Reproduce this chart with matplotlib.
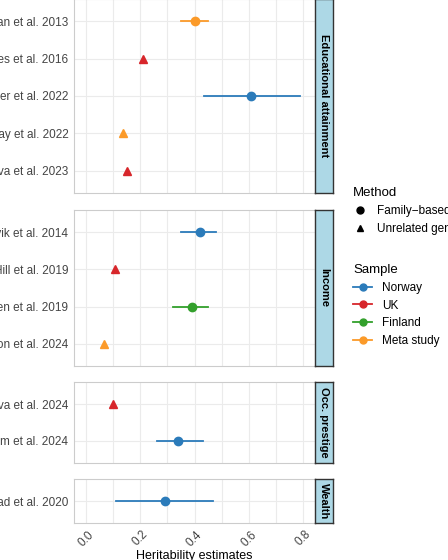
import matplotlib
matplotlib.use("Agg")
import matplotlib.pyplot as plt
from matplotlib.lines import Line2D

plt.rcParams["font.family"] = ["Liberation Sans", "DejaVu Sans"]

facets = ["Educational attainment", "Income", "Occ. prestige", "Wealth"]
studies = [
    ["Branigan et al. 2013", "Davies et al. 2016", "Baier et al. 2022", "Okbay et al. 2022", "Akimova et al. 2023"],
    ["Hyvik et al. 2014", "Hill et al. 2019", "Hyytinen et al. 2019", "Kweon et al. 2024"],
    ["Akimova et al. 2024", "Hegem et al. 2024"],
    ["Kolstad et al. 2020"],
]
est = [[0.40, 0.21, 0.61, 0.135, 0.15], [0.42, 0.107, 0.39, 0.067], [0.10, 0.34], [0.29]]
lo = [[0.35, None, 0.435, None, None], [0.35, None, 0.32, None], [None, 0.26], [0.11]]
hi = [[0.45, None, 0.79, None, None], [0.48, None, 0.45, None], [None, 0.43], [0.47]]
method = [["Family", "Unrelated", "Family", "Unrelated", "Unrelated"],
          ["Family", "Unrelated", "Family", "Unrelated"],
          ["Unrelated", "Family"], ["Family"]]
sample = [["Meta study", "UK", "Norway", "Meta study", "UK"],
          ["Norway", "UK", "Finland", "Meta study"],
          ["UK", "Norway"], ["Norway"]]

colors = {"Norway": "#2b7bba", "UK": "#d7262b", "Finland": "#33a02c", "Meta study": "#fb9a29"}
markers = {"Family": "o", "Unrelated": "^"}

fig = plt.figure(figsize=(4.48, 5.6), dpi=100)
L, R, SW = 74/448, 315/448, 18/448
rows = [(-1, 193), (210, 366), (382, 463), (479, 523)]
for i, (t, b) in enumerate(rows):
    y0 = 1 - b/560; h = (b - t)/560
    ax = fig.add_axes([L, y0, R - L, h])
    n = len(studies[i])
    for j in range(n):
        c = colors[sample[i][j]]
        if lo[i][j] is not None:
            ax.plot([lo[i][j], hi[i][j]], [j, j], color=c, lw=1.3, zorder=2)
        ax.plot(est[i][j], j, marker=markers[method[i][j]], color=c, ms=6, ls="none", zorder=3)
    ax.set_ylim(n - 0.4, -0.6)
    ax.set_xlim(-0.044, 0.844)
    ax.set_yticks(range(n))
    ax.set_yticklabels(studies[i], fontsize=8.5, color="#444444")
    ax.set_xticks([0, 0.2, 0.4, 0.6, 0.8])
    ax.set_xticks([0.1, 0.3, 0.5, 0.7], minor=True)
    ax.grid(True, which="both", color="#ebebeb", lw=0.8)
    ax.set_axisbelow(True)
    ax.tick_params(length=0, which="both", pad=4)
    for s in ax.spines.values():
        s.set_color("#cccccc")
    if i < 3:
        ax.set_xticklabels([])
    else:
        ax.set_xticklabels(["0.0", "0.2", "0.4", "0.6", "0.8"], rotation=45, fontsize=8.5, color="#444444")
        ax.set_xlabel("Heritability estimates", fontsize=9, labelpad=1)
    sx = fig.add_axes([R, y0, SW, h])
    sx.set_facecolor("#add8e6")
    sx.set_xticks([]); sx.set_yticks([])
    for s in sx.spines.values():
        s.set_color("#333333"); s.set_linewidth(1.0)
    sx.text(0.5, 0.5, facets[i], rotation=-90, ha="center", va="center", fontsize=8,
            fontweight="bold", transform=sx.transAxes)

h1 = [Line2D([], [], marker="o", color="black", ls="none", ms=5, label="Family\u2212based"),
      Line2D([], [], marker="^", color="black", ls="none", ms=5, label="Unrelated genotypes")]
fig.legend(handles=h1, title="Method", loc="upper left", bbox_to_anchor=(0.765, 0.685),
           frameon=False, fontsize=8.5, title_fontsize=9.5, alignment="left", handlelength=1.2,
           labelspacing=0.5)
h2 = [Line2D([], [], marker="o", color=c, lw=1.3, ms=5, label=k) for k, c in colors.items()]
fig.legend(handles=h2, title="Sample", loc="upper left", bbox_to_anchor=(0.765, 0.548),
           frameon=False, fontsize=8.5, title_fontsize=9.5, alignment="left", handlelength=1.6,
           labelspacing=0.5)
fig.savefig("out.png", dpi=100)
